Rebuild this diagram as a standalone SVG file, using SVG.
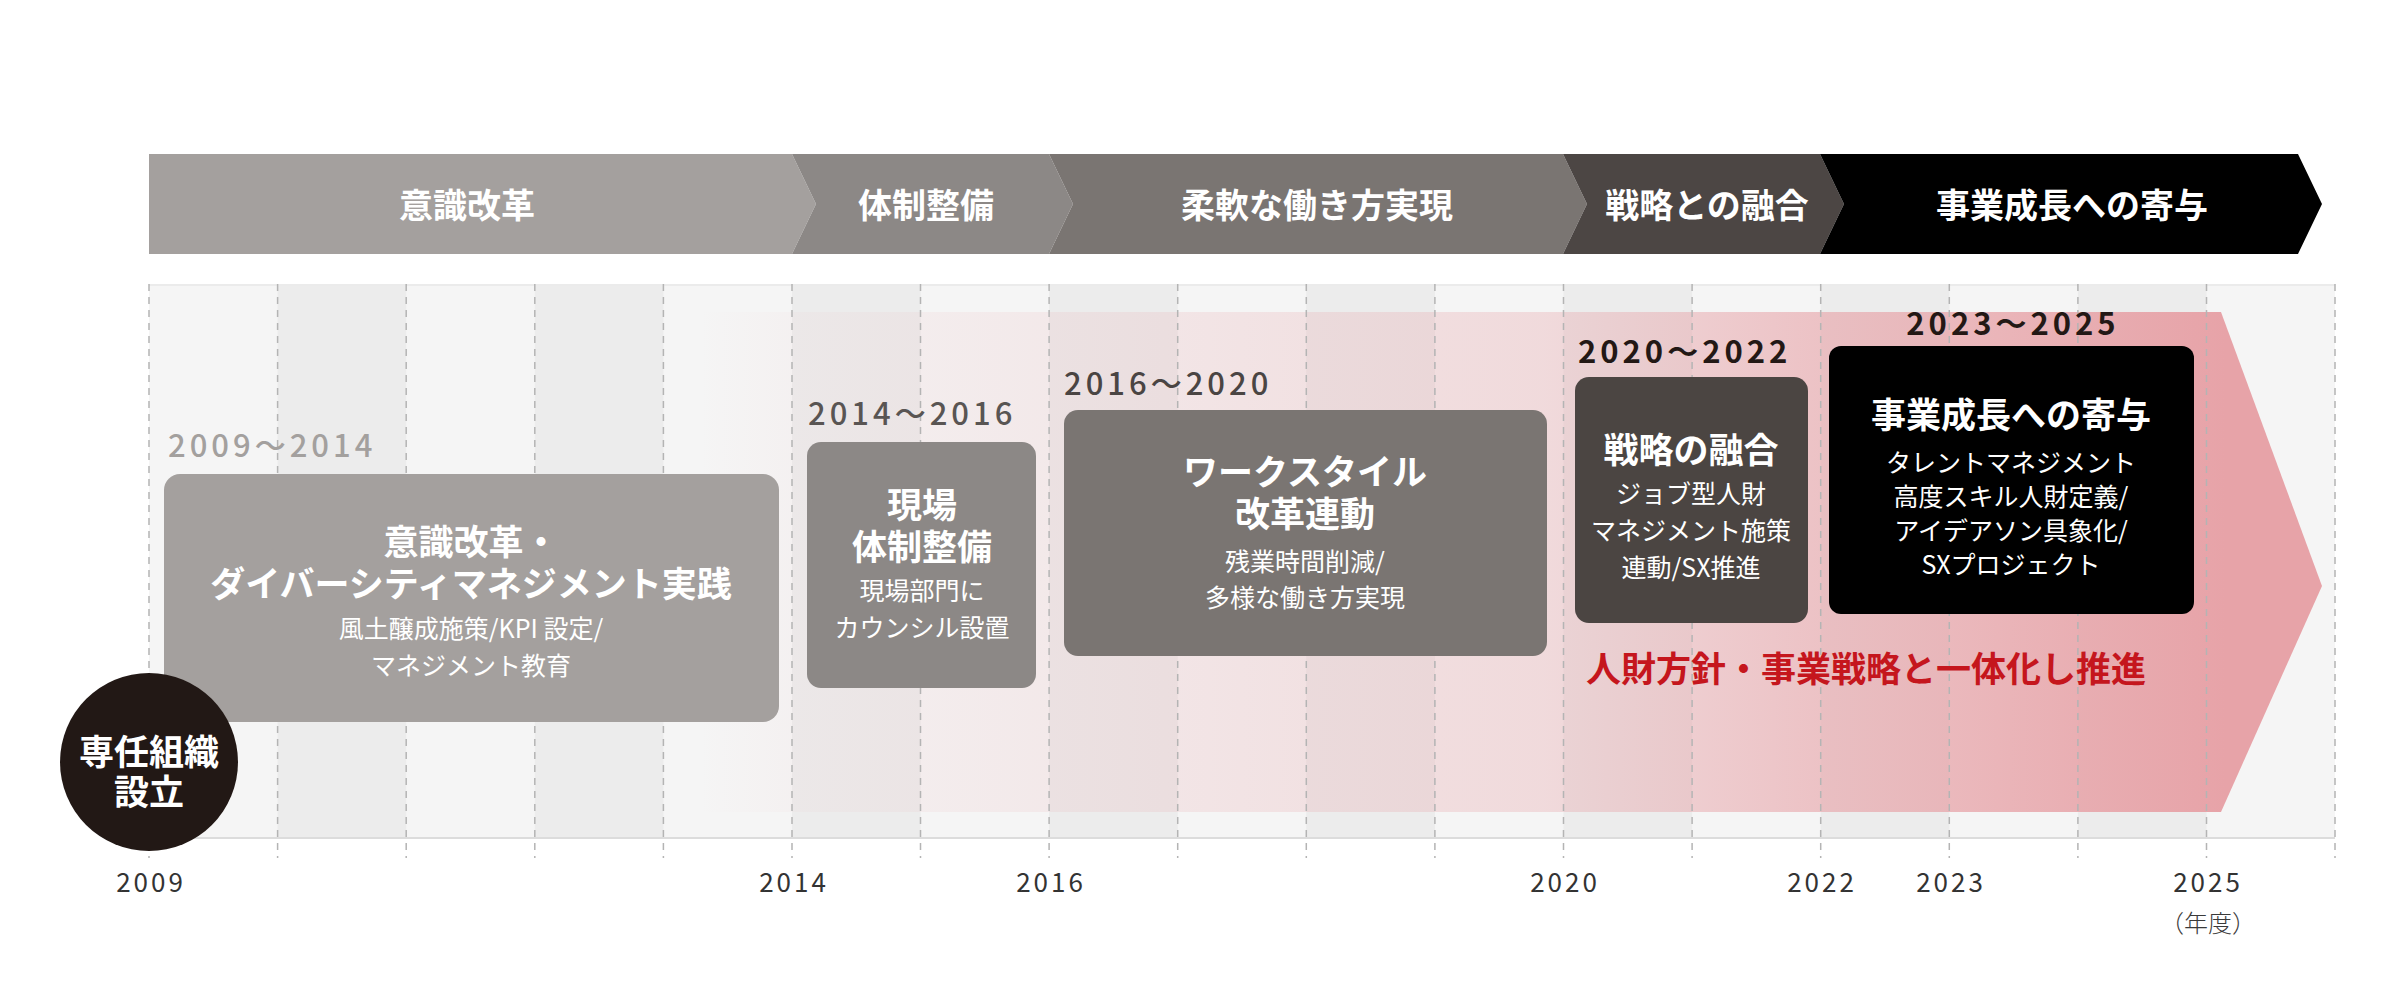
<svg xmlns="http://www.w3.org/2000/svg" width="2400" height="994" viewBox="0 0 2400 994">
  <defs>
    <linearGradient id="pinkGrad" gradientUnits="userSpaceOnUse" x1="700" y1="0" x2="2322" y2="0">
      <stop offset="0" stop-color="#e7a3a8" stop-opacity="0"/>
      <stop offset="0.062" stop-color="#e7a3a8" stop-opacity="0.06"/>
      <stop offset="0.216" stop-color="#e7a3a8" stop-opacity="0.15"/>
      <stop offset="0.52" stop-color="#e7a3a8" stop-opacity="0.33"/>
      <stop offset="0.678" stop-color="#e7a3a8" stop-opacity="0.6"/>
      <stop offset="0.80" stop-color="#e7a3a8" stop-opacity="0.78"/>
      <stop offset="0.94" stop-color="#e7a3a8" stop-opacity="1"/>
      <stop offset="1" stop-color="#e7a3a8" stop-opacity="1"/>
    </linearGradient>
    <style>
      text { font-family: "Noto Sans CJK JP", "Noto Sans", sans-serif; }
      .bar { font-size: 34px; font-weight: 700; fill: #ffffff; text-anchor: middle; }
      .ttl { font-size: 35px; font-weight: 700; fill: #ffffff; text-anchor: middle; }
      .sub { font-size: 25px; font-weight: 400; fill: #ffffff; text-anchor: middle; }
      .per { font-size: 31px; font-weight: 500; letter-spacing: 4px; }
      .perb { font-size: 31px; font-weight: 700; letter-spacing: 4px; fill: #231815; }
      .yr { font-size: 26px; font-weight: 400; fill: #333333; text-anchor: middle; letter-spacing: 3px; }
      .dash { stroke: #b4b4b4; stroke-width: 1.5; stroke-dasharray: 7 6; fill: none; }
      .colA { fill: #f5f5f5; }
      .colB { fill: #ececec; }
    </style>
  </defs>

  <rect x="0" y="0" width="2400" height="994" fill="#ffffff"/>

  <!-- Phase bar -->
  <g id="phase-bar">
    <polygon points="149,154 792,154 816,204 792,254 149,254" fill="#a4a09e"/>
    <polygon points="792,154 1049,154 1073,204 1049,254 792,254 816,204" fill="#8c8886"/>
    <polygon points="1049,154 1563,154 1587,204 1563,254 1049,254 1073,204" fill="#7a7572"/>
    <polygon points="1563,154 1820,154 1844,204 1820,254 1563,254 1587,204" fill="#4c4644"/>
    <polygon points="1820,154 2298,154 2322,204 2298,254 1820,254 1844,204" fill="#000000"/>
    <text class="bar" x="467" y="218">意識改革</text>
    <text class="bar" x="926" y="218">体制整備</text>
    <text class="bar" x="1317" y="218">柔軟な働き方実現</text>
    <text class="bar" x="1707" y="218">戦略との融合</text>
    <text class="bar" x="2072" y="218">事業成長への寄与</text>
  </g>

  <!-- Grid background -->
  <g id="grid">
    <rect class="colA" x="149" y="284" width="2186" height="554"/>
    <rect class="colB" x="277.6" y="284" width="128.6" height="554"/>
    <rect class="colB" x="534.8" y="284" width="128.6" height="554"/>
    <rect class="colB" x="792.0" y="284" width="128.6" height="554"/>
    <rect class="colB" x="1049.1" y="284" width="128.6" height="554"/>
    <rect class="colB" x="1306.3" y="284" width="128.6" height="554"/>
    <rect class="colB" x="1563.5" y="284" width="128.6" height="554"/>
    <rect class="colB" x="1820.7" y="284" width="128.6" height="554"/>
    <rect class="colB" x="2077.9" y="284" width="128.6" height="554"/>
    <line x1="149" y1="285" x2="2335" y2="285" stroke="#ebebeb" stroke-width="2"/>
    <line x1="149" y1="838" x2="2335" y2="838" stroke="#dcdcdc" stroke-width="2"/>
  </g>

  <!-- Pink progress arrow -->
  <g id="progress-arrow">
    <polygon points="600,312 2221,312 2322,586 2221,812 600,812" fill="url(#pinkGrad)"/>
  </g>

  <!-- Year dashed lines -->
  <g id="connectors">
    <line class="dash" x1="149" y1="284" x2="149" y2="858"/>
    <line class="dash" x1="277.6" y1="284" x2="277.6" y2="858"/>
    <line class="dash" x1="406.2" y1="284" x2="406.2" y2="858"/>
    <line class="dash" x1="534.8" y1="284" x2="534.8" y2="858"/>
    <line class="dash" x1="663.4" y1="284" x2="663.4" y2="858"/>
    <line class="dash" x1="792.0" y1="284" x2="792.0" y2="858"/>
    <line class="dash" x1="920.5" y1="284" x2="920.5" y2="858"/>
    <line class="dash" x1="1049.1" y1="284" x2="1049.1" y2="858"/>
    <line class="dash" x1="1177.7" y1="284" x2="1177.7" y2="858"/>
    <line class="dash" x1="1306.3" y1="284" x2="1306.3" y2="858"/>
    <line class="dash" x1="1434.9" y1="284" x2="1434.9" y2="858"/>
    <line class="dash" x1="1563.5" y1="284" x2="1563.5" y2="858"/>
    <line class="dash" x1="1692.1" y1="284" x2="1692.1" y2="858"/>
    <line class="dash" x1="1820.7" y1="284" x2="1820.7" y2="858"/>
    <line class="dash" x1="1949.3" y1="284" x2="1949.3" y2="858"/>
    <line class="dash" x1="2077.9" y1="284" x2="2077.9" y2="858"/>
    <line class="dash" x1="2206.5" y1="284" x2="2206.5" y2="858"/>
    <line class="dash" x1="2335" y1="284" x2="2335" y2="858"/>
  </g>

  <!-- Period 1 -->
  <g id="node-2009-2014">
    <text class="per" x="168" y="457" fill="#a3a09e">2009〜2014</text>
    <rect x="164" y="474" width="615" height="248" rx="16" fill="#a4a09e"/>
    <text class="ttl" x="471" y="555">意識改革・</text>
    <text class="ttl" x="471" y="597">ダイバーシティマネジメント実践</text>
    <text class="sub" x="471" y="638">風土醸成施策/KPI 設定/</text>
    <text class="sub" x="471" y="675">マネジメント教育</text>
  </g>

  <!-- Period 2 -->
  <g id="node-2014-2016">
    <text class="per" x="808" y="425" fill="#595553">2014〜2016</text>
    <rect x="807" y="442" width="229" height="246" rx="14" fill="#8c8886"/>
    <text class="ttl" x="922" y="518">現場</text>
    <text class="ttl" x="922" y="560">体制整備</text>
    <text class="sub" x="922" y="600">現場部門に</text>
    <text class="sub" x="922" y="637">カウンシル設置</text>
  </g>

  <!-- Period 3 -->
  <g id="node-2016-2020">
    <text class="per" x="1064" y="395" fill="#4a4543">2016〜2020</text>
    <rect x="1064" y="410" width="483" height="246" rx="14" fill="#7a7572"/>
    <text class="ttl" x="1305" y="485">ワークスタイル</text>
    <text class="ttl" x="1305" y="527">改革連動</text>
    <text class="sub" x="1305" y="571">残業時間削減/</text>
    <text class="sub" x="1305" y="607">多様な働き方実現</text>
  </g>

  <!-- Period 4 -->
  <g id="node-2020-2022">
    <text class="perb" x="1578" y="363">2020〜2022</text>
    <rect x="1575" y="377" width="233" height="246" rx="14" fill="#4b4542"/>
    <text class="ttl" x="1691" y="463">戦略の融合</text>
    <text class="sub" x="1691" y="503">ジョブ型人財</text>
    <text class="sub" x="1691" y="540">マネジメント施策</text>
    <text class="sub" x="1691" y="577">連動/SX推進</text>
  </g>

  <!-- Period 5 -->
  <g id="node-2023-2025">
    <text class="perb" x="2013" y="335" text-anchor="middle">2023〜2025</text>
    <rect x="1829" y="346" width="365" height="268" rx="12" fill="#000000"/>
    <text class="ttl" x="2011" y="428">事業成長への寄与</text>
    <text class="sub" x="2011" y="472">タレントマネジメント</text>
    <text class="sub" x="2011" y="506">高度スキル人財定義/</text>
    <text class="sub" x="2011" y="540">アイデアソン具象化/</text>
    <text class="sub" x="2011" y="574">SXプロジェクト</text>
  </g>

  <!-- Red caption -->
  <g id="caption">
    <text x="1586" y="682" font-size="35" font-weight="700" fill="#c5161d">人財方針・事業戦略と一体化し推進</text>
  </g>

  <!-- Circle -->
  <g id="node-start">
    <circle cx="149" cy="762" r="89" fill="#221815"/>
    <text class="ttl" x="149" y="765">専任組織</text>
    <text class="ttl" x="149" y="805">設立</text>
  </g>

  <!-- Year axis labels -->
  <g id="axis-labels">
    <text class="yr" x="151" y="892">2009</text>
    <text class="yr" x="794" y="892">2014</text>
    <text class="yr" x="1051" y="892">2016</text>
    <text class="yr" x="1565" y="892">2020</text>
    <text class="yr" x="1822" y="892">2022</text>
    <text class="yr" x="1951" y="892">2023</text>
    <text class="yr" x="2208" y="892">2025</text>
    <text x="2208" y="932" font-size="24" font-weight="300" fill="#3a3a3a" text-anchor="middle">（年度）</text>
  </g>
</svg>
